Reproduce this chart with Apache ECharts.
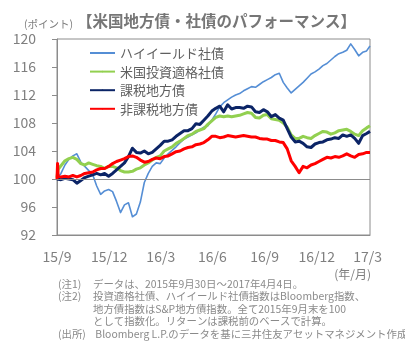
<!DOCTYPE html>
<html>
<head>
<meta charset="utf-8">
<script src="https://cdn.jsdelivr.net/npm/echarts@6/dist/echarts.min.js"></script>
<style>
  html, body { margin: 0; padding: 0; background: #ffffff; }
  #chart { width: 405px; height: 350px; }
</style>
</head>
<body>
<div id="chart"></div>
<script>
// Index levels (end of Sep 2015 = 100), weekly observations plus the first two trading days
const seriesNames = ['ハイイールド社債', '米国投資適格社債', '課税地方債', '非課税地方債'];

const dates = [
  '2015-09-30', '2015-10-01', '2015-10-02',
  '2015-10-07', '2015-10-14', '2015-10-21', '2015-10-28', '2015-11-04', '2015-11-11', '2015-11-18', '2015-11-25',
  '2015-12-02', '2015-12-09', '2015-12-16', '2015-12-23', '2015-12-30', '2016-01-06', '2016-01-13', '2016-01-20',
  '2016-01-27', '2016-02-03', '2016-02-10', '2016-02-17', '2016-02-24', '2016-03-02', '2016-03-09', '2016-03-16',
  '2016-03-23', '2016-03-30', '2016-04-06', '2016-04-13', '2016-04-20', '2016-04-27', '2016-05-04', '2016-05-11',
  '2016-05-18', '2016-05-25', '2016-06-01', '2016-06-08', '2016-06-15', '2016-06-22', '2016-06-29', '2016-07-06',
  '2016-07-13', '2016-07-20', '2016-07-27', '2016-08-03', '2016-08-10', '2016-08-17', '2016-08-24', '2016-08-31',
  '2016-09-07', '2016-09-14', '2016-09-21', '2016-09-28', '2016-10-05', '2016-10-12', '2016-10-19', '2016-10-26',
  '2016-11-02', '2016-11-09', '2016-11-16', '2016-11-23', '2016-11-30', '2016-12-07', '2016-12-14', '2016-12-21',
  '2016-12-28', '2017-01-04', '2017-01-11', '2017-01-18', '2017-01-25', '2017-02-01', '2017-02-08', '2017-02-15',
  '2017-02-22', '2017-03-01', '2017-03-08', '2017-03-15', '2017-03-22', '2017-03-29', '2017-04-04'
];

const highYield = [
  100.0, 100.2, 100.3,
  100.8, 102.0, 102.8, 103.3, 103.6, 102.4, 101.8, 101.2,
  100.6, 99.0, 97.8, 98.3, 98.5, 98.2, 96.8, 95.2,
  96.3, 96.6, 94.6, 95.0, 96.7, 99.5, 100.8, 101.8,
  102.3, 102.2, 103.0, 103.6, 104.1, 104.6, 105.2, 105.7,
  106.0, 106.3, 106.6, 107.0, 107.4, 107.6, 108.4, 109.3,
  110.3, 110.9, 111.3, 111.7, 112.0, 112.2, 112.6, 112.9,
  113.2, 113.1, 113.5, 113.9, 114.2, 114.5, 114.9, 115.1,
  113.8, 113.0, 112.3, 112.8, 113.3, 113.8, 114.4, 115.0,
  115.3, 115.7, 116.2, 116.5, 117.0, 117.5, 117.9, 118.1,
  118.4, 119.3, 118.5, 117.6, 118.1, 118.3, 119.0
];

const investmentGrade = [
  100.2, 100.9, 101.4,
  101.9, 102.6, 102.9, 103.1, 102.8, 102.2, 102.0, 102.3,
  102.1, 101.9, 101.8, 101.5, 101.8, 101.8, 101.6, 101.2,
  101.0, 101.0, 101.1, 101.4, 101.6, 102.0, 102.3, 102.7,
  103.1, 103.3, 104.0, 104.3, 104.6, 105.1, 105.4, 105.8,
  106.2, 106.4, 106.8, 107.0, 107.2, 107.8, 108.3, 108.8,
  109.0, 108.9, 109.0, 108.9, 109.0, 109.1, 109.3, 109.5,
  109.4, 108.8, 108.7, 109.1, 109.2, 108.6, 108.5, 108.4,
  108.0, 107.4, 106.3, 105.8, 105.8, 106.1, 105.9, 105.8,
  106.2, 106.5, 106.8, 106.7, 106.4, 106.6, 106.9, 107.0,
  107.1, 106.8, 106.4, 106.2, 106.9, 107.3, 107.6
];

const taxableMuni = [
  100.0, 100.1, 100.0,
  99.9, 100.1, 100.0, 99.9, 99.4, 99.8, 100.2, 100.4,
  100.6, 100.8, 100.6, 100.8, 100.4, 100.8, 101.3, 101.8,
  102.3, 103.2, 104.4, 103.8, 103.7, 104.0, 103.6, 103.8,
  104.3, 104.8, 105.4, 105.4, 105.6, 106.1, 106.5, 106.9,
  106.9, 107.2, 107.9, 107.8, 108.4, 109.0, 109.7, 110.1,
  110.4, 109.6, 110.6, 110.0, 110.2, 110.2, 110.1, 110.4,
  110.3, 109.6, 109.5, 109.9, 109.6, 108.9, 109.2, 108.7,
  108.4, 107.2, 106.0, 105.3, 105.4, 105.1, 104.6, 104.5,
  105.0, 105.2, 105.3, 105.6, 105.7, 105.9, 105.8, 106.3,
  106.1, 106.3, 105.8, 105.1, 106.2, 106.5, 106.8
];

const taxExemptMuni = [
  100.0, 102.2, 100.4,
  100.3, 100.4, 100.3, 100.5, 100.3, 100.5, 100.8, 100.9,
  101.0, 101.3, 101.5, 101.5, 101.8, 102.2, 102.5, 102.7,
  102.9, 103.2, 103.3, 103.1, 102.7, 102.4, 102.5, 102.8,
  103.0, 102.9, 103.2, 103.3, 103.6, 103.9, 104.0, 104.3,
  104.5, 104.6, 104.9, 105.0, 105.2, 105.6, 106.1, 106.1,
  105.9, 106.0, 106.2, 106.1, 106.0, 106.1, 106.2, 106.1,
  106.0, 106.0, 105.8, 105.7, 105.7, 105.5, 105.5, 105.3,
  105.2, 104.3, 102.6, 101.8, 100.9, 101.8, 101.6, 102.0,
  102.2, 102.5, 102.8, 103.1, 103.0, 103.2, 103.1, 103.3,
  103.6, 103.3, 103.1, 103.5, 103.6, 103.8, 103.8
];

// Quarter-end tick positions on the time scale and their labels
const tickDates = ['2015-09-30', '2015-12-31', '2016-03-31', '2016-06-30', '2016-09-30', '2016-12-31', '2017-03-31'];
const tickLabels = ['15/9', '15/12', '16/3', '16/6', '16/9', '16/12', '17/3'];

const noteLines = [
  ['(注1)', 'データは、2015年9月30日～2017年4月4日。'],
  ['(注2)', '投資適格社債、ハイイールド社債指数はBloomberg指数、'],
  ['', '地方債指数はS&P地方債指数。全て2015年9月末を100'],
  ['', 'として指数化。リターンは課税前のベースで計算。'],
  ['(出所)', ' Bloomberg L.P.のデータを基に三井住友アセットマネジメント作成']
];

const FONT = '"Noto Sans CJK JP", "Noto Sans", sans-serif';
const GREY = '#7f7f7f';

const dayMs = 86400000;
const origin = Date.parse(dates[0] + 'T00:00:00Z');
const dayOf = d => Math.round((Date.parse(d + 'T00:00:00Z') - origin) / dayMs);
const endDay = dayOf(dates[dates.length - 1]);
const tickDays = tickDates.map(dayOf);

const toPairs = vals => dates.map((d, i) => [dayOf(d), vals[i]]);

const seriesStyles = [
  { color: '#558ed5', width: 1.6 },
  { color: '#92d050', width: 3 },
  { color: '#0b2466', width: 3 },
  { color: '#ff0000', width: 3 }
];
const seriesValues = [highYield, investmentGrade, taxableMuni, taxExemptMuni];

const series = seriesNames.map((name, k) => ({
  name,
  type: 'line',
  data: toPairs(seriesValues[k]),
  showSymbol: false,
  symbol: 'circle',
  symbolSize: 0,
  lineStyle: { color: seriesStyles[k].color, width: seriesStyles[k].width, join: 'round' },
  itemStyle: { color: seriesStyles[k].color },
  z: 2 + k,
  animation: false
}));

// Reference line at the base value 100
series[0].markLine = {
  silent: true,
  symbol: ['none', 'none'],
  label: { show: false },
  lineStyle: { color: '#8c8c8c', width: 1, type: 'solid' },
  data: [{ yAxis: 100 }],
  animation: false
};

const graphics = [
  { type: 'text', x: 24, y: 24, style: { text: '(ポイント)', font: '10.5px ' + FONT, fill: GREY, verticalAlign: 'middle' } },
  { type: 'text', x: 77, y: 21, style: { text: '【米国地方債・社債のパフォーマンス】', font: 'bold 15.5px ' + FONT, fill: '#767676', verticalAlign: 'middle' } },
  { type: 'text', x: 371, y: 274, style: { text: '(年/月)', font: '12px ' + FONT, fill: GREY, align: 'right', verticalAlign: 'middle' } }
];
noteLines.forEach((line, i) => {
  const y = 284 + i * 12.5;
  if (line[0]) {
    graphics.push({ type: 'text', x: 58, y, style: { text: line[0], font: '10.4px ' + FONT, fill: '#8a8a8a', verticalAlign: 'middle' } });
  }
  graphics.push({ type: 'text', x: 93, y, style: { text: line[1], font: '10.4px ' + FONT, fill: '#8a8a8a', verticalAlign: 'middle' } });
});

const chart = echarts.init(document.getElementById('chart'), null, { renderer: 'canvas' });
chart.setOption({
  animation: false,
  backgroundColor: '#ffffff',
  textStyle: { fontFamily: FONT },
  grid: { left: 57, right: 35, top: 39, bottom: 115, show: true, borderColor: '#8c8c8c', borderWidth: 1 },
  legend: {
    data: seriesNames,
    orient: 'vertical',
    left: 89,
    top: 46,
    padding: 0,
    itemWidth: 25,
    itemHeight: 2,
    itemGap: 4.6,
    textStyle: { fontSize: 13, color: '#5f5f5f', fontFamily: FONT, lineHeight: 14 }
  },
  xAxis: {
    type: 'value',
    min: 0,
    max: endDay,
    axisLine: { show: true, lineStyle: { color: '#8c8c8c' } },
    axisTick: { show: false },
    splitLine: { show: false },
    axisLabel: {
      customValues: tickDays,
      formatter: v => tickLabels[tickDays.indexOf(v)] || '',
      fontSize: 14,
      color: GREY,
      margin: 15,
      fontFamily: FONT
    }
  },
  yAxis: {
    type: 'value',
    min: 92,
    max: 120,
    interval: 4,
    axisLine: { show: true, lineStyle: { color: '#8c8c8c' } },
    axisTick: { show: true, length: 5, lineStyle: { color: '#8c8c8c' } },
    splitLine: { show: false },
    axisLabel: { fontSize: 14, color: GREY, margin: 21, fontFamily: FONT }
  },
  series,
  graphic: graphics
});
</script>
</body>
</html>
